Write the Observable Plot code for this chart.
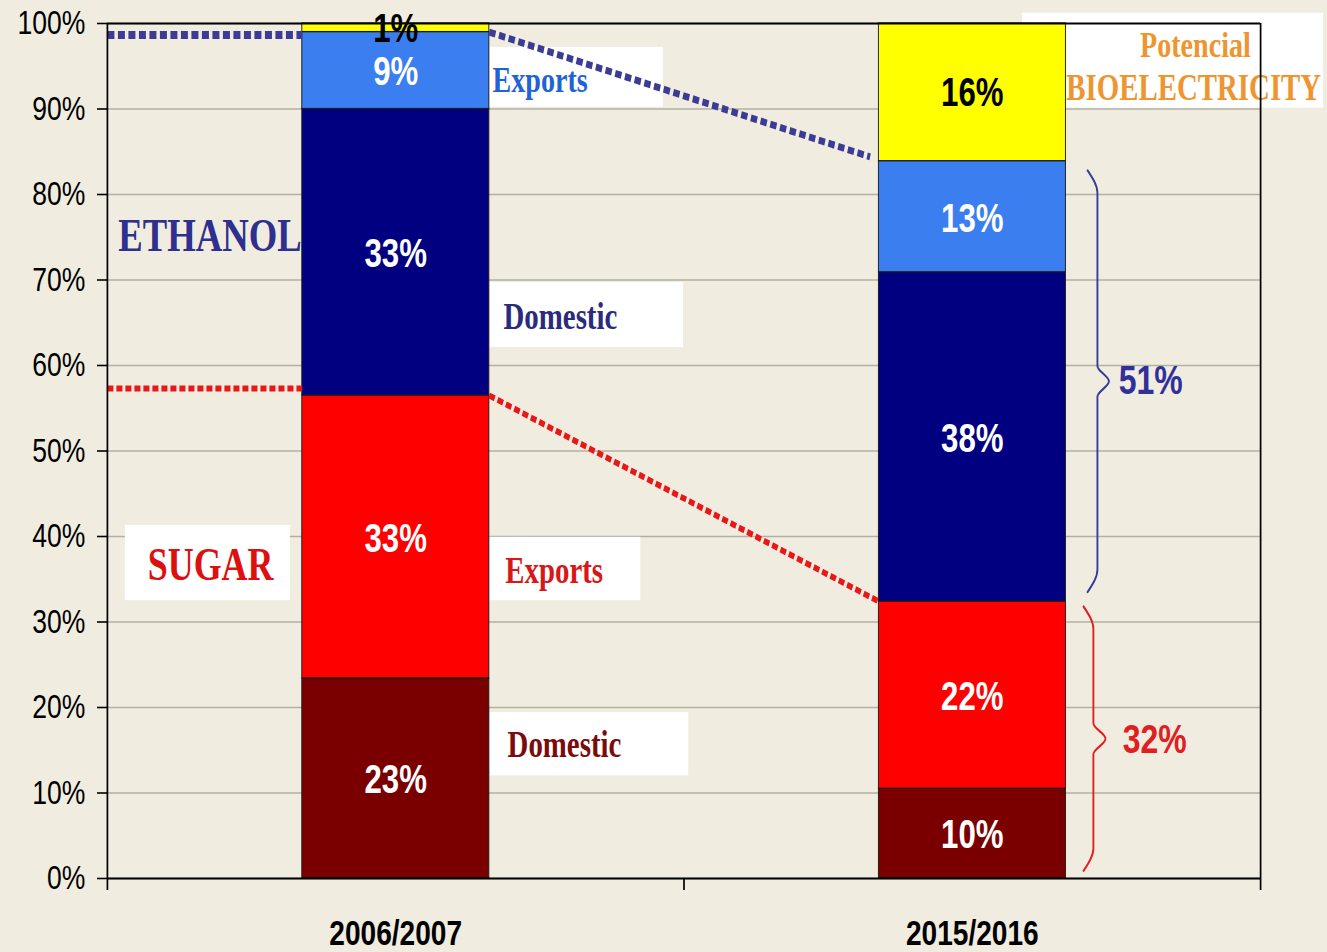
<!DOCTYPE html>
<html><head><meta charset="utf-8">
<script src="https://cdn.jsdelivr.net/npm/d3@7"></script>
<script src="https://cdn.jsdelivr.net/npm/@observablehq/plot@0.6"></script>
<style>
html,body{margin:0;padding:0;background:#f0ede0;}
#chart{width:1327px;height:952px;overflow:hidden;}
</style></head><body><div id="chart"></div>
<script>
// ---------- DATA ----------
const years = ["2006/2007", "2015/2016"];
const categories = ["Sugar – Domestic", "Sugar – Exports", "Ethanol – Domestic", "Ethanol – Exports", "Bioelectricity"];
const share2006 = [23.4, 33.1, 33.5, 9.0, 1.0];
const share2015 = [10.5, 21.9, 38.5, 13.0, 16.1];
const labels2006 = ["23%", "33%", "33%", "9%", "1%"];
const labels2015 = ["10%", "22%", "38%", "13%", "16%"];
const yTicks = [0, 10, 20, 30, 40, 50, 60, 70, 80, 90, 100];
const ethanolTotalLabel = "51%";
const sugarTotalLabel = "32%";

// ---------- STYLE / LAYOUT ----------
const colors = ["#7a0000", "#ff0000", "#000080", "#3a7ef0", "#ffff00"];
const s = 0.78;                       // horizontal squeeze of the original picture
const W = Math.round(1327 / s);
const px = v => v / s;                // real horizontal px -> virtual px
const SANS = "Liberation Sans, Arial, sans-serif";
const SERIF = "Liberation Serif, Times New Roman, serif";
const barHalf = 93.5 / 576.5;         // half bar width in slot units

const rows = years.flatMap((year, slot) => categories.map((category, i) => ({
  year, slot, category,
  value: [share2006, share2015][slot][i],
  label: [labels2006, labels2015][slot][i]
})));

const sum = a => a.reduce((p, c) => p + c, 0);
const ethanolTop = [sum(share2006.slice(0, 4)), sum(share2015.slice(0, 4))];
const sugarTop = [sum(share2006.slice(0, 2)), sum(share2015.slice(0, 2))];

// annotation boxes (data units) and texts
const boxes = [
  {x1: 0.663, x2: 0.964, y1: 90.2, y2: 97.2},
  {x1: 0.663, x2: 0.999, y1: 62.1, y2: 69.7},
  {x1: 0.663, x2: 0.925, y1: 32.5, y2: 39.9},
  {x1: 0.663, x2: 1.008, y1: 12.0, y2: 19.4},
  {x1: 0.031, x2: 0.317, y1: 32.5, y2: 41.3},
  {x1: 1.587, x2: 2.109, y1: 90.1, y2: 101.2}
];
const notesStart = [
  {text: "Exports", x: 0.668, y: 93.3, color: "#1f63d6", size: 36},
  {text: "Domestic", x: 0.687, y: 65.7, color: "#2b2b7d", size: 37},
  {text: "Exports", x: 0.690, y: 36.0, color: "#d81818", size: 37},
  {text: "Domestic", x: 0.694, y: 15.6, color: "#7a0c0c", size: 37},
  {text: "ETHANOL", x: 0.019, y: 75.2, color: "#2f2f8f", size: 47}
];
const notesMiddle = [
  {text: "SUGAR", x: 0.179, y: 36.6, color: "#dd1010", size: 46},
  {text: "Potencial", x: 1.887, y: 97.4, color: "#ee9530", size: 36},
  {text: "BIOELECTRICITY", x: 1.884, y: 92.4, color: "#ee9530", size: 37}
];

function brace(top, bottom, x0, x1, x2) {
  const mid = (top + bottom) / 2;
  return [[x0, top], [x1, top - 2.6], [x1, mid + 1.8], [x2, mid], [x1, mid - 1.8], [x1, bottom + 2.6], [x0, bottom]];
}
const navyBrace = brace(ethanolTop[1] - 1.1, sugarTop[1] + 1.1, 1.700, 1.717, 1.737);
const redBrace = brace(sugarTop[1] - 0.6, 0.9, 1.693, 1.710, 1.731);

const dotted = (stroke, w, dash, gap, extra = {}) => ({
  stroke, strokeWidth: w, strokeDasharray: `${px(dash)} ${px(gap)}`, strokeLinecap: "butt", ...extra
});

const chart = Plot.plot({
  width: W, height: 952,
  marginLeft: px(107), marginRight: W - px(1260), marginTop: 23, marginBottom: 74,
  style: {background: "transparent", fontFamily: SANS, color: "black"},
  x: {domain: [0, 2], axis: null},
  y: {domain: [0, 100], axis: null},
  color: {domain: categories, range: colors},
  marks: [
    Plot.gridY(yTicks, {stroke: "#b3b0a3", strokeOpacity: 1, strokeWidth: 1.6}),
    Plot.rect(boxes, {x1: "x1", x2: "x2", y1: "y1", y2: "y2", fill: "white"}),
    Plot.rectY(rows, Plot.stackY({x1: "slot", x2: d => d.slot + 1, y: "value", fill: "category",
      insetLeft: px(194.75), insetRight: px(194.75), stroke: "#1a1a1a", strokeWidth: 1.2})),
    Plot.text(rows, Plot.stackY({x: d => d.slot + 0.5, y: "value",
      text: d => d.category === "Bioelectricity" ? null : d.label,
      fill: "white", fontSize: 40, fontWeight: "bold", fontFamily: SANS, dy: 2})),
    Plot.text(rows, Plot.stackY({x: d => d.slot + 0.5, y: "value",
      text: d => d.category === "Bioelectricity" ? d.label : null,
      fill: "black", fontSize: 40, fontWeight: "bold", fontFamily: SANS, dy: 1})),
    // dotted connectors
    Plot.line([[0, ethanolTop[0]], [0.5 - barHalf, ethanolTop[0]]], dotted("#3c3c96", 8, 7, 3.5, {dy: 3})),
    Plot.line([[0.5 + barHalf, ethanolTop[0]], [1.5 - barHalf - 0.015, ethanolTop[1] + 0.5]], dotted("#3c3c96", 7, 6.5, 3.5)),
    Plot.line([[0, sugarTop[0]], [0.5 - barHalf, sugarTop[0]]], dotted("#e81818", 6, 6, 3, {dy: -7})),
    Plot.line([[0.5 + barHalf, sugarTop[0]], [1.5 - barHalf, sugarTop[1]]], dotted("#e81818", 6, 6, 3)),
    // annotation texts
    Plot.text(notesStart, {x: "x", y: "y", text: "text", fill: d => d.color, fontSize: d => d.size,
      textAnchor: "start", fontFamily: SERIF, fontWeight: "bold"}),
    Plot.text(notesMiddle, {x: "x", y: "y", text: "text", fill: d => d.color, fontSize: d => d.size,
      textAnchor: "middle", fontFamily: SERIF, fontWeight: "bold"}),
    // frame & axes
    Plot.ruleY([100], {stroke: "black", strokeWidth: 1.8}),
    Plot.ruleY([0], {stroke: "black", strokeWidth: 1.8}),
    Plot.ruleX([0], {stroke: "black", strokeWidth: 2.2}),
    Plot.ruleX([2], {stroke: "black", strokeWidth: 2.2}),
    Plot.axisY(yTicks, {tickFormat: d => d + "%", tickSize: px(10), tickPadding: px(12),
      fontSize: 34, fontFamily: SANS, stroke: "black", strokeWidth: 1.6}),
    Plot.axisX([0, 1, 2], {tickFormat: () => "", tickSize: 12, stroke: "black", strokeWidth: 2.2}),
    Plot.axisX([0.5, 1.5], {tickFormat: d => years[Math.floor(d)], tickSize: 0, tickPadding: 41,
      fontSize: 36, fontWeight: "bold", fontFamily: SANS}),
    // braces
    Plot.line(navyBrace, {curve: "monotone-y", stroke: "#3a3a9a", strokeWidth: 2.4}),
    Plot.line(redBrace, {curve: "monotone-y", stroke: "#e02020", strokeWidth: 2.4}),
    Plot.text([ethanolTotalLabel], {x: 1.754, y: (ethanolTop[1] + sugarTop[1]) / 2, text: d => d,
      fill: "#30309a", fontSize: 41, fontWeight: "bold", textAnchor: "start", fontFamily: SANS}),
    Plot.text([sugarTotalLabel], {x: 1.761, y: sugarTop[1] / 2, text: d => d,
      fill: "#e02020", fontSize: 41, fontWeight: "bold", textAnchor: "start", fontFamily: SANS})
  ]
});

chart.setAttribute("width", 1327);
chart.setAttribute("height", 952);
chart.setAttribute("preserveAspectRatio", "none");
chart.style.width = "1327px";
chart.style.height = "952px";
chart.style.maxWidth = "none";
document.getElementById("chart").appendChild(chart);
</script></body></html>
